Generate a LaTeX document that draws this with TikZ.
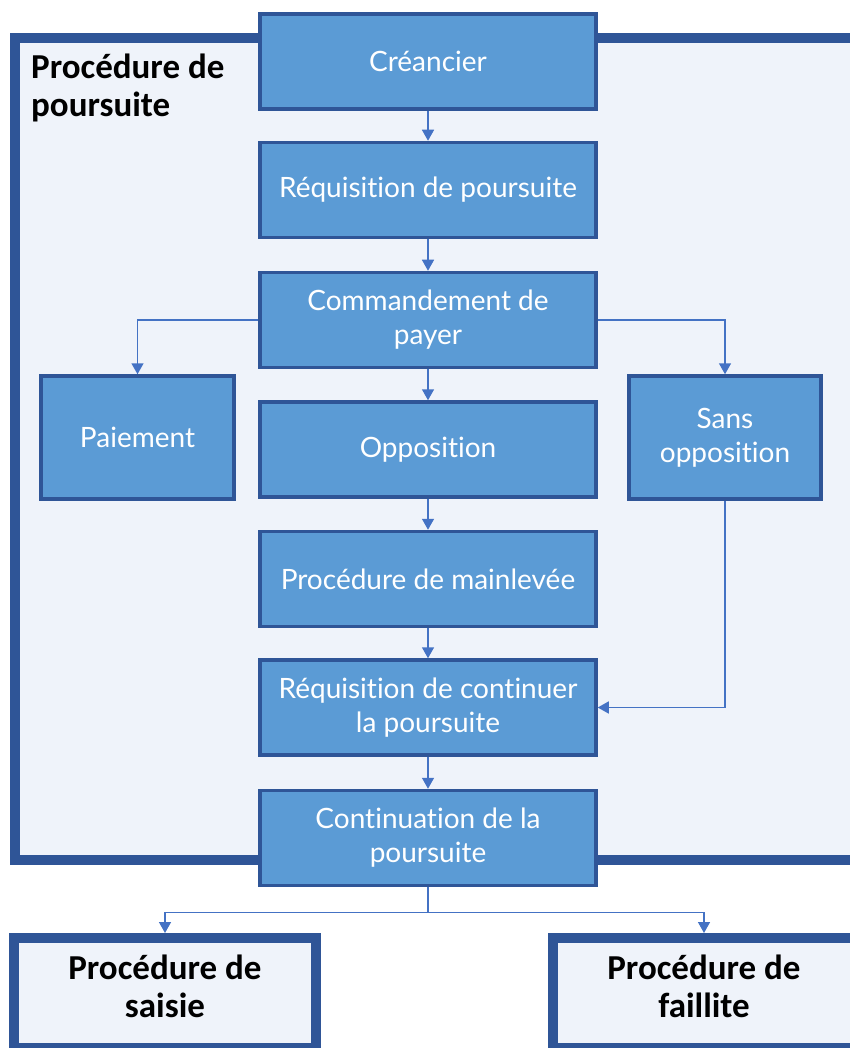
\documentclass[tikz,border=0pt]{standalone}
\usepackage{fontspec}
\setmainfont{Lato}[Ligatures=NoCommon]
\newfontfamily\boldfam{Carlito}
\usetikzlibrary{arrows.meta}
\definecolor{boxblue}{HTML}{5B9BD5}
\definecolor{darkblue}{HTML}{2F5597}
\definecolor{paleblue}{HTML}{EFF3FA}
\definecolor{arrowblue}{HTML}{4472C4}
\begin{document}
\begin{tikzpicture}[x=1pt,y=-1pt,
  box/.style={draw=darkblue, line width=3.5pt, fill=boxblue, text=white, align=center,
    minimum width=336pt, minimum height=95pt, inner sep=0pt, font=\fontsize{28}{34}\selectfont},
  outerbox/.style={draw=darkblue, line width=10pt, fill=paleblue},
  headtext/.style={font=\boldfam\bfseries\fontsize{35}{38}\selectfont, align=center, text=black},
  flow/.style={draw=arrowblue, line width=1.5pt, -{Triangle[width=12pt,length=11pt]}}]
\useasboundingbox (0,0) rectangle (850,1048);
\node[outerbox, minimum width=840pt, minimum height=821pt] (fr) at (435,449) {};
\node[headtext, align=left, anchor=north west, inner sep=0pt] (t) at (31,54) {Procédure de\\poursuite};
\node[box] (a1) at (428,61.5) {Créancier};
\node[box] (a2) at (428,190) {Réquisition de poursuite};
\node[box] (a3) at (428,320) {Commandement de\\payer};
\node[box] (a4) at (428,449.5) {Opposition};
\node[box] (a5) at (428,579) {Procédure de mainlevée};
\node[box] (a6) at (428,707.5) {Réquisition de continuer\\la poursuite};
\node[box] (a7) at (428,838) {Continuation de la\\poursuite};
\node[box, minimum width=193pt, minimum height=123pt] (b1) at (137.5,437.5) {Paiement};
\node[box, minimum width=192pt, minimum height=123pt] (b2) at (725,437.5) {Sans\\opposition};
\node[outerbox, headtext, text depth=14pt, minimum width=302pt, minimum height=110pt] (s1) at (165,993) {Procédure de\\saisie};
\node[outerbox, headtext, text depth=14pt, minimum width=302pt, minimum height=110pt] (s2) at (704,993) {Procédure de\\faillite};
\draw[flow] (a1) -- (a2);
\draw[flow] (a2) -- (a3);
\draw[flow] (a3) -- (a4);
\draw[flow] (a4) -- (a5);
\draw[flow] (a5) -- (a6);
\draw[flow] (a6) -- (a7);
\draw[flow] (a3.west) -| (b1.north);
\draw[flow] (a3.east) -| (b2.north);
\draw[flow] (b2.south) |- (a6.east);
\draw[flow] (a7.south) -- ++(0,25) -| (s1.north);
\draw[flow] (a7.south) -- ++(0,25) -| (s2.north);
\end{tikzpicture}
\end{document}
